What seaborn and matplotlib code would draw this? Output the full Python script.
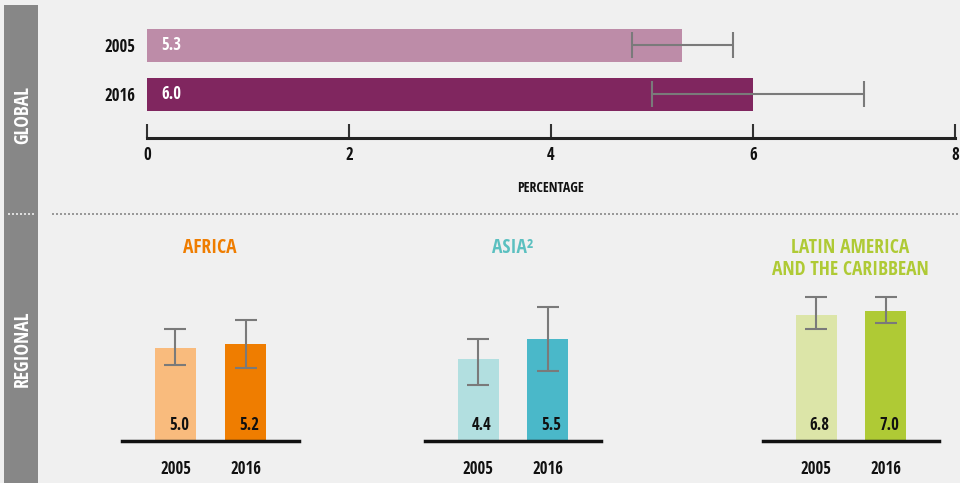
import numpy as np
import matplotlib
matplotlib.use("Agg")
import matplotlib.pyplot as plt
from matplotlib.patches import Rectangle
from matplotlib.lines import Line2D
import seaborn as sns

# Data
GLOBAL_YEARS = ["2005", "2016"]
GLOBAL_VALUES = [5.3, 6.0]
GLOBAL_LOW = [4.8, 5.0]
GLOBAL_HIGH = [5.8, 7.1]
GLOBAL_COLORS = ["#bd8ca8", "#80265f"]

REGIONS = ["AFRICA", "ASIA²", "LATIN AMERICA\nAND THE CARIBBEAN"]
REGION_YEARS = ["2005", "2016"]
REGION_VALUES = [[5.0, 5.2], [4.4, 5.5], [6.8, 7.0]]
REGION_LOW = [[4.1, 3.9], [3.0, 3.75], [6.0, 6.35]]
REGION_HIGH = [[6.0, 6.5], [5.5, 7.2], [7.75, 7.75]]
REGION_COLORS = [["#f9bb7d", "#ef7d00"], ["#b2dfe0", "#4ab8c9"], ["#dce5a8", "#afca35"]]
TITLE_COLORS = ["#ef7d00", "#5bc0c0", "#afca35"]

W, H = 960, 483
BG = "#f0f0f0"
ERR = "#7a7a7a"

sns.set_theme(style="white")
plt.rcParams["font.family"] = ["Open Sans Condensed", "Open Sans", "DejaVu Sans"]
plt.rcParams["font.weight"] = "bold"


def px_axes(fig, x0, y0, x1, y1):
    """Add axes given pixel box (top-left origin)."""
    ax = fig.add_axes([x0 / W, 1 - y1 / H, (x1 - x0) / W, (y1 - y0) / H])
    ax.set_facecolor("none")
    return ax


fig = plt.figure(figsize=(W / 100, H / 100), dpi=100, facecolor=BG)

# Side bar
fig.patches.append(Rectangle((4 / W, 0), 34 / W, 1 - 5 / H, transform=fig.transFigure,
                             facecolor="#878787", edgecolor="none", zorder=0))
fig.text(23 / W, 1 - 115 / H, "GLOBAL", rotation=90, color="white", fontsize=14,
         ha="center", va="center", fontweight="bold")
fig.text(23 / W, 1 - 349 / H, "REGIONAL", rotation=90, color="white", fontsize=14,
         ha="center", va="center", fontweight="bold")

# Dotted separators
y_sep = 1 - 213.5 / H
fig.lines.append(Line2D([52 / W, 1], [y_sep, y_sep], transform=fig.transFigure,
                        color="#999999", lw=1.44, linestyle=(0, (1, 1))))
fig.lines.append(Line2D([8 / W, 36 / W], [y_sep, y_sep], transform=fig.transFigure,
                        color="#dddddd", lw=1.44, linestyle=(0, (1, 1))))

# Global panel
ax = px_axes(fig, 147, 20, 955, 138)
sns.barplot(x=GLOBAL_VALUES, y=GLOBAL_YEARS, hue=GLOBAL_YEARS, palette=GLOBAL_COLORS,
            orient="h", width=0.673, legend=False, ax=ax, saturation=1, linewidth=0)
vals = np.array(GLOBAL_VALUES)
ax.errorbar(vals, range(len(vals)),
            xerr=[vals - np.array(GLOBAL_LOW), np.array(GLOBAL_HIGH) - vals],
            fmt="none", ecolor=ERR, elinewidth=1.5, capsize=9.4, capthick=1.5)
for i, v in enumerate(GLOBAL_VALUES):
    ax.text(0.14, i, f"{v:.1f}", color="white", fontsize=12, ha="left", va="center")
ax.set_xlim(0, 8)
ax.set_ylim(1.888, -0.52)
ax.set_xticks([0, 2, 4, 6, 8])
ax.tick_params(axis="x", direction="in", length=10, width=1.5, color="#333333",
               pad=6, labelsize=12, labelcolor="#111111", bottom=True)
ax.tick_params(axis="y", length=0, pad=8, labelsize=12, labelcolor="#111111")
for s in ["top", "right", "left"]:
    ax.spines[s].set_visible(False)
ax.spines["bottom"].set_color("#222222")
ax.spines["bottom"].set_linewidth(2.2)
ax.set_xlabel("PERCENTAGE", fontsize=10, color="#111111", labelpad=12)
ax.set_ylabel("")

# Regional panels
boxes = [(122, 299), (425, 601), (763, 939)]
title_pos = [(210, 248), (513, 248), (850, 259)]
for k, region in enumerate(REGIONS):
    x0, x1 = boxes[k]
    ax = px_axes(fig, x0, 290, x1, 441)
    v = np.array(REGION_VALUES[k])
    sns.barplot(x=REGION_YEARS, y=v, hue=REGION_YEARS, palette=REGION_COLORS[k],
                width=0.586, legend=False, ax=ax, saturation=1, linewidth=0)
    ax.errorbar(range(len(v)), v,
                yerr=[v - np.array(REGION_LOW[k]), np.array(REGION_HIGH[k]) - v],
                fmt="none", ecolor=ERR, elinewidth=1.5, capsize=7.9, capthick=1.5)
    for i, val in enumerate(v):
        ax.text(i + 0.05, 0.86, f"{val:.1f}", color="#111111", fontsize=12,
                ha="center", va="center")
    ax.set_xlim(-0.764, 1.764)
    ax.set_ylim(0, 151 / 18.6)
    ax.set_yticks([])
    ax.tick_params(axis="x", length=0, pad=14, labelsize=12, labelcolor="#111111")
    for s in ["top", "right", "left"]:
        ax.spines[s].set_visible(False)
    ax.spines["bottom"].set_color("#111111")
    ax.spines["bottom"].set_linewidth(2.5)
    ax.set_xlabel("")
    ax.set_ylabel("")
    tx, ty = title_pos[k]
    fig.text(tx / W, 1 - ty / H, region, color=TITLE_COLORS[k], fontsize=14,
             ha="center", va="center", fontweight="bold", linespacing=1.1)

fig.savefig("out.png", dpi=100, facecolor=BG)
